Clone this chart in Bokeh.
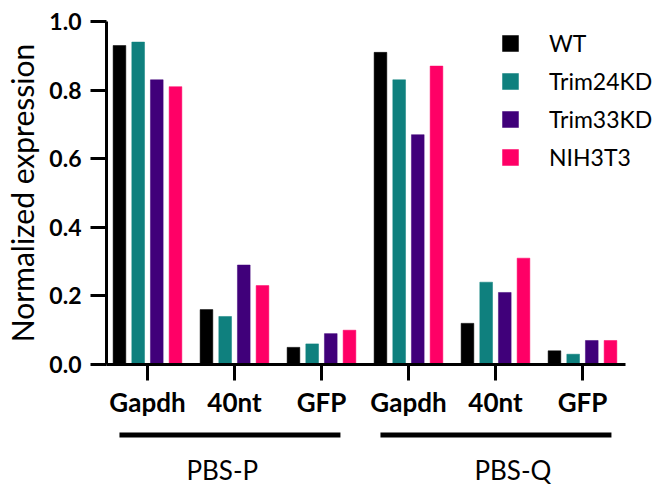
from bokeh.plotting import figure
from bokeh.models import (FixedTicker, Range1d, Legend, LegendItem, BoxAnnotation,
                          Label, NumeralTickFormatter)
from bokeh.embed import file_html
from bokeh.resources import INLINE

# ---- data ----
genes = ["Gapdh", "40nt", "GFP", "Gapdh", "40nt", "GFP"]
groups = ["PBS-P", "PBS-Q"]
series = ["WT", "Trim24KD", "Trim33KD", "NIH3T3"]
wt = [0.93, 0.16, 0.05, 0.91, 0.12, 0.04]
trim24kd = [0.94, 0.14, 0.06, 0.83, 0.24, 0.03]
trim33kd = [0.83, 0.29, 0.09, 0.67, 0.21, 0.07]
nih3t3 = [0.81, 0.23, 0.10, 0.87, 0.31, 0.07]
y_ticks = [0.0, 0.2, 0.4, 0.6, 0.8, 1.0]

values = [wt, trim24kd, trim33kd, nih3t3]
colors = ["#000000", "#0F807E", "#40007A", "#FF0066"]
offsets = [-0.322, -0.107, 0.107, 0.322]
bar_w = 0.146
FONT = "Lato"

X0, X1 = -0.471, 5.494       # extent of the drawn x axis
Y0, Y1 = -0.3586, 1.0612     # frame covers area around axes for labels/brackets
XS = X0 - 106 / 87

p = figure(width=666, height=487, output_backend="svg", toolbar_location=None,
           x_range=Range1d(XS, XS + 666 / 87), y_range=Range1d(Y0, Y1),
           min_border=0, min_border_left=0, min_border_right=0,
           min_border_top=0, min_border_bottom=0)
p.outline_line_color = None
p.xgrid.visible = False
p.ygrid.visible = False
p.background_fill_color = "white"
p.border_fill_color = "white"

renderers = []
idx = list(range(len(genes)))
for vals, col, off in zip(values, colors, offsets):
    r = p.vbar(x=[i + off for i in idx], top=vals, width=bar_w, bottom=0,
               fill_color=col, line_color=col, line_width=0.5)
    renderers.append(r)

# axes
xa = p.xaxis[0]
xa.fixed_location = 0
xa.bounds = (X0, X1)
xa.ticker = FixedTicker(ticks=idx)
xa.major_label_overrides = {i: g for i, g in zip(idx, genes)}
xa.major_label_text_font = FONT
xa.major_label_text_font_style = "bold"
xa.major_label_text_font_size = "26px"
xa.major_label_text_color = "black"
xa.major_label_standoff = 6
xa.axis_line_width = 3
xa.axis_line_color = "black"
xa.major_tick_line_width = 3
xa.major_tick_out = 16
xa.major_tick_in = 0
xa.minor_tick_line_color = None

ya = p.yaxis[0]
ya.fixed_location = X0
ya.bounds = (0, 1)
ya.ticker = FixedTicker(ticks=y_ticks)
ya.formatter = NumeralTickFormatter(format="0.0")
ya.major_label_text_font = FONT
ya.major_label_text_font_style = "bold"
ya.major_label_text_font_size = "23px"
ya.major_label_text_color = "black"
ya.major_label_standoff = 9
ya.axis_line_width = 3
ya.axis_line_color = "black"
ya.major_tick_line_width = 3
ya.major_tick_out = 16
ya.major_tick_in = 0
ya.minor_tick_line_color = None
ya.axis_label = "Normalized expression"
ya.axis_label_text_font = FONT
ya.axis_label_text_font_style = "normal"
ya.axis_label_text_font_size = "30px"
ya.axis_label_text_color = "black"
ya.axis_label_standoff = 6

# group brackets and labels
group_spans = [(-0.322, 2.218), (2.678, 5.333)]
group_label_x = [0.86, 4.20]
for (l, r), gx, gname in zip(group_spans, group_label_x, groups):
    p.add_layout(BoxAnnotation(left=l, right=r, top=-0.198, bottom=-0.213,
                               fill_color="black", fill_alpha=1.0, line_color=None))
    p.add_layout(Label(x=gx, y=-0.309, text=gname, text_align="center",
                       text_baseline="middle", text_font=FONT,
                       text_font_size="26px", text_color="black"))

legend = Legend(items=[LegendItem(label=s, renderers=[r]) for s, r in zip(series, renderers)],
                location=(500, 316), glyph_width=20, glyph_height=20,
                label_standoff=29, label_text_font=FONT, label_text_font_size="23px",
                label_text_color="black", spacing=10, padding=0, margin=0,
                background_fill_alpha=0, border_line_alpha=0, label_height=20)
p.add_layout(legend)

open("out.html", "w").write(file_html(p, INLINE))
